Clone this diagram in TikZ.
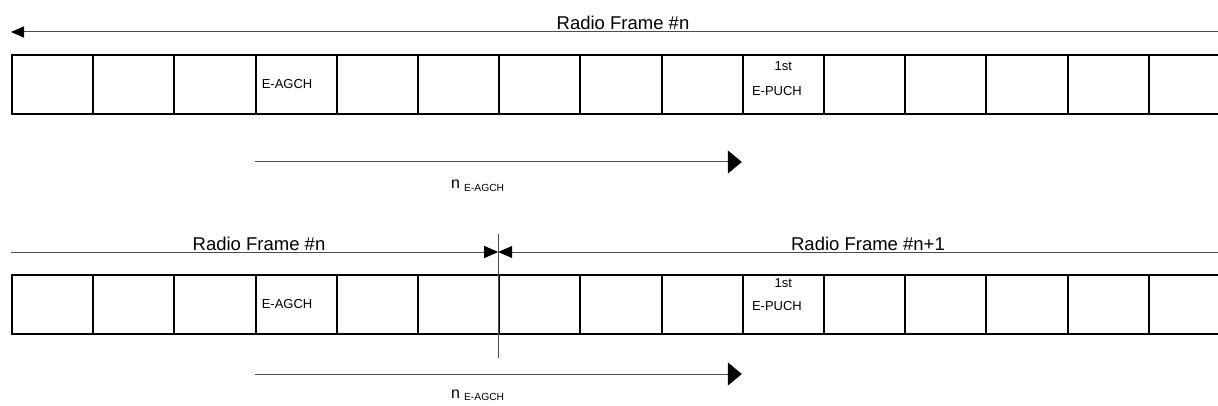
\documentclass[tikz,border=0pt]{standalone}
\usepackage{fontspec}
\setmainfont{Liberation Sans}
\usepackage{xcolor}
\definecolor{spangray}{rgb}{0.3,0.3,0.3}
\usepackage{tikz}
\usetikzlibrary{arrows.meta, positioning}

\begin{document}
\begin{tikzpicture}[x=1pt, y=-1pt,
  slot/.style={draw=black, line width=2pt, minimum width=81.2pt, minimum height=59pt, inner sep=0pt},
  chname/.style={font=\fontsize{13}{13}\selectfont, inner sep=0pt},
  framename/.style={font=\fontsize{18.5}{18.5}\selectfont, inner sep=0pt, anchor=base},
  span/.style={draw=spangray, line width=1pt},
  bothtips/.style={{Triangle[length=13pt, width=11pt, color=black]}-{Triangle[length=13pt, width=11pt, color=black]}},
  bigtip/.style={-{Triangle[length=14pt, width=23pt, color=black]}},
  meettip/.style={-{Triangle[length=14pt, width=12pt, color=black]}}
]
\useasboundingbox (0,0) rectangle (1218,406);
\clip (0,0) rectangle (1218,406);
% radio frame #n, upper row
\foreach \i in {1,...,15}
  \node[slot] (a\i) at ({12+81.2*(\i-0.5)}, 84.5) {};
\node[chname, anchor=west] (agchA) at ([xshift=7pt]a4.west) {E-AGCH};
\node[chname] (firstA) at ([yshift=-12pt]a10.north) {1st};
\node[chname, anchor=west] (puchA) at ([xshift=10pt, yshift=-37pt]a10.north west) {E-PUCH};
\node[framename] (frameA) at (623,30) {Radio Frame \#n};
\draw[span, bothtips] ([yshift=22pt]a1.north west) -- ([yshift=22pt]a15.north east);
\draw[span, bigtip] ([yshift=-47pt]a4.south west) -- ([yshift=-47pt]a10.south west);
\node[anchor=base west, inner sep=0pt] (nA) at (451,189) {\fontsize{16}{16}\selectfont n\hspace{4pt}\raisebox{-2.5pt}{\fontsize{10.3}{10}\selectfont E-AGCH}};
% radio frames #n and #n+1, lower row
\foreach \i in {1,...,15}
  \node[slot] (b\i) at ({12+81.2*(\i-0.5)}, 304.5) {};
\node[chname, anchor=west] (agchB) at ([xshift=7pt]b4.west) {E-AGCH};
\node[chname] (firstB) at ([yshift=-9pt]b10.north) {1st};
\node[chname, anchor=west] (puchB) at ([xshift=10pt, yshift=-32pt]b10.north west) {E-PUCH};
\node[framename] (frameB) at (259,251) {Radio Frame \#n};
\node[framename] (frameC) at (868,251) {Radio Frame \#n+1};
\draw[span, meettip] ([yshift=22pt]b1.north west) -- ([yshift=22pt]b7.north west);
\draw[span, meettip] ([yshift=22pt]b15.north east) -- ([yshift=22pt]b7.north west);
\draw[span] ([yshift=40pt]b7.north west) -- ([yshift=-23pt]b7.south west);
\draw[span, bigtip] ([yshift=-39pt]b4.south west) -- ([yshift=-39pt]b10.south west);
\node[anchor=base west, inner sep=0pt] (nB) at (451,398) {\fontsize{16}{16}\selectfont n\hspace{4pt}\raisebox{-2.5pt}{\fontsize{10.3}{10}\selectfont E-AGCH}};
\end{tikzpicture}
\end{document}
